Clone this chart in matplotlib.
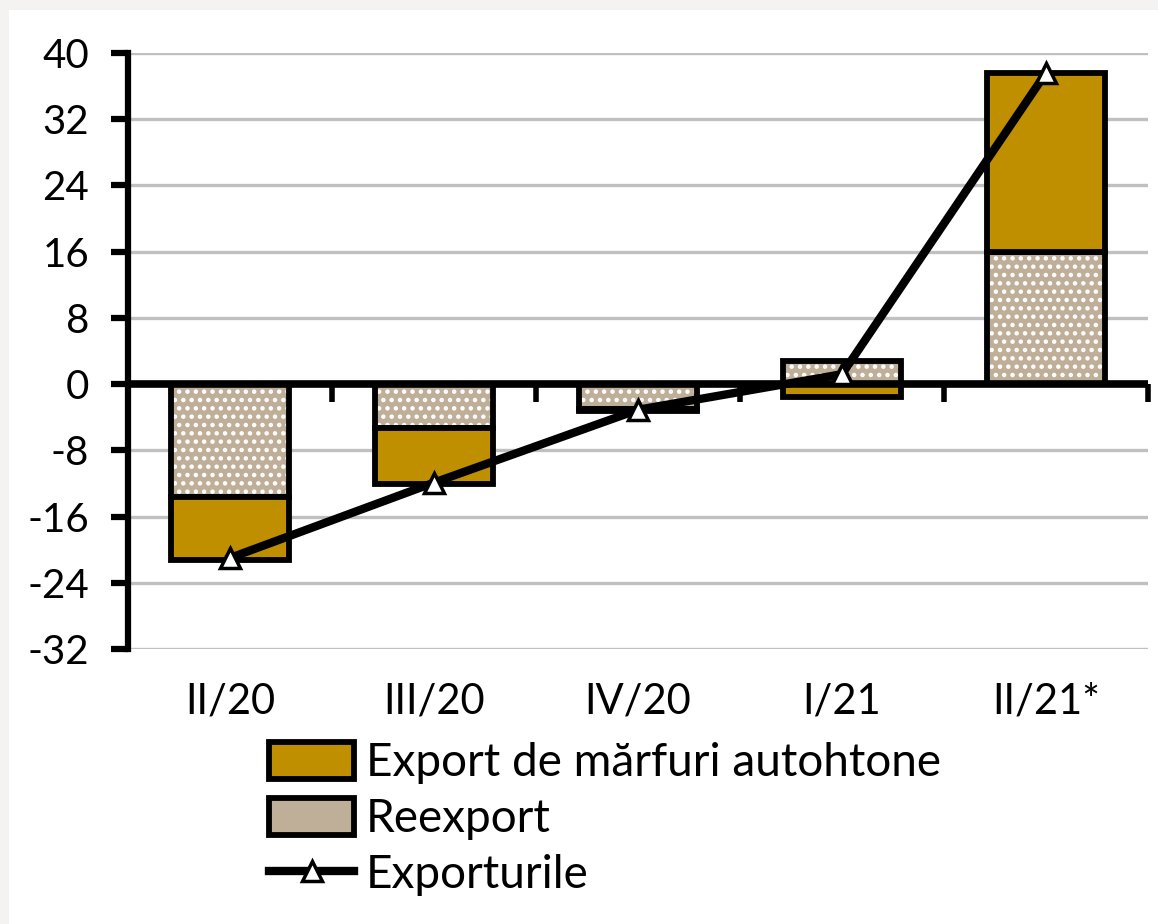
import matplotlib.pyplot as plt
from matplotlib.patches import Rectangle
from matplotlib.lines import Line2D

# data
categories = ['II/20', 'III/20', 'IV/20', 'I/21', 'II/21*']
reexport = [-13.6, -5.3, -3.0, 2.8, 16.0]
autohtone = [-7.6, -6.8, -0.2, -1.6, 21.6]
exporturile = [-21.0, -11.9, -3.1, 1.2, 37.6]
yticks = [-32, -24, -16, -8, 0, 8, 16, 24, 32, 40]

gold = '#BF8F00'
tan = '#BFAE98'
plt.rcParams['font.family'] = ['Lato', 'DejaVu Sans']
plt.rcParams['hatch.linewidth'] = 2.0

fig = plt.figure(figsize=(11.58, 9.24), dpi=100)
# light gray frame strip on the top and left of the original picture
fig.patches.append(Rectangle((0, 1 - 10 / 924), 1, 10 / 924, transform=fig.transFigure,
                             facecolor='#F4F3F2', edgecolor='none', zorder=-5))
fig.patches.append(Rectangle((0, 0), 9 / 1158, 1, transform=fig.transFigure,
                             facecolor='#F4F3F2', edgecolor='none', zorder=-5))

ax = fig.add_axes([128 / 1158, 1 - 649 / 924, (1148 - 128) / 1158, (649 - 53) / 924])
x = list(range(len(categories)))
w = 0.58
edge_lw = 4.2

# stacked bars: positives stack up from 0, negatives stack down from 0
pos_base = [0.0] * len(x)
neg_base = [0.0] * len(x)
for vals, fc, hatch in [(reexport, tan, '..'), (autohtone, gold, None)]:
    bottoms = []
    for i, v in enumerate(vals):
        if v >= 0:
            bottoms.append(pos_base[i])
            pos_base[i] += v
        else:
            bottoms.append(neg_base[i])
            neg_base[i] += v
    if hatch:
        ax.bar(x, vals, w, bottom=bottoms, color=fc, edgecolor='white', hatch=hatch,
               linewidth=0, zorder=2)
        ax.bar(x, vals, w, bottom=bottoms, fill=False, edgecolor='black', linewidth=edge_lw, zorder=3)
    else:
        ax.bar(x, vals, w, bottom=bottoms, color=fc, edgecolor='black', linewidth=edge_lw, zorder=3)

ax.axhline(0, color='black', lw=5.5, zorder=4)
ax.plot(x, exporturile, color='black', lw=6, marker='^', ms=15, mfc='white', mec='black',
        mew=2.5, zorder=5)

ax.set_xlim(-0.5, 4.5)
ax.set_ylim(-32, 40)
ax.set_yticks(yticks)
ax.set_yticklabels([str(t) for t in yticks])
ax.yaxis.grid(True, color='#C0C0C0', lw=2.4, zorder=0)
ax.set_axisbelow(True)

for s in ['top', 'right', 'bottom']:
    ax.spines[s].set_visible(False)
ax.spines['left'].set_linewidth(4.5)
ax.tick_params(axis='y', direction='out', length=12, width=4.5, labelsize=29, pad=16)

ax.set_xticks(x)
ax.set_xticklabels(categories)
ax.tick_params(axis='x', length=0, labelsize=30, pad=24)

# category separator ticks on the zero line
sec = ax.secondary_xaxis(32 / 72)
sec.set_xticks([0.5, 1.5, 2.5, 3.5, 4.5])
sec.set_xticklabels([])
sec.spines['bottom'].set_visible(False)
sec.tick_params(direction='out', length=13, width=4)

handles = [
    Rectangle((0, 0), 1, 1, facecolor=gold, edgecolor='black', lw=edge_lw),
    Rectangle((0, 0), 1, 1, facecolor=tan, edgecolor='black', lw=edge_lw),
    Line2D([], [], color='black', lw=6, marker='^', ms=15, mfc='white', mec='black', mew=2.5),
]
labels = ['Export de mărfuri autohtone', 'Reexport', 'Exporturile']
fig.legend(handles, labels, loc='upper left', bbox_to_anchor=(251 / 1158, 1 - 724 / 924),
           frameon=False, fontsize=33, handlelength=1.85, handleheight=0.85,
           handletextpad=0.25, labelspacing=0.3, borderaxespad=0)

fig.savefig('out.png', dpi=100)
